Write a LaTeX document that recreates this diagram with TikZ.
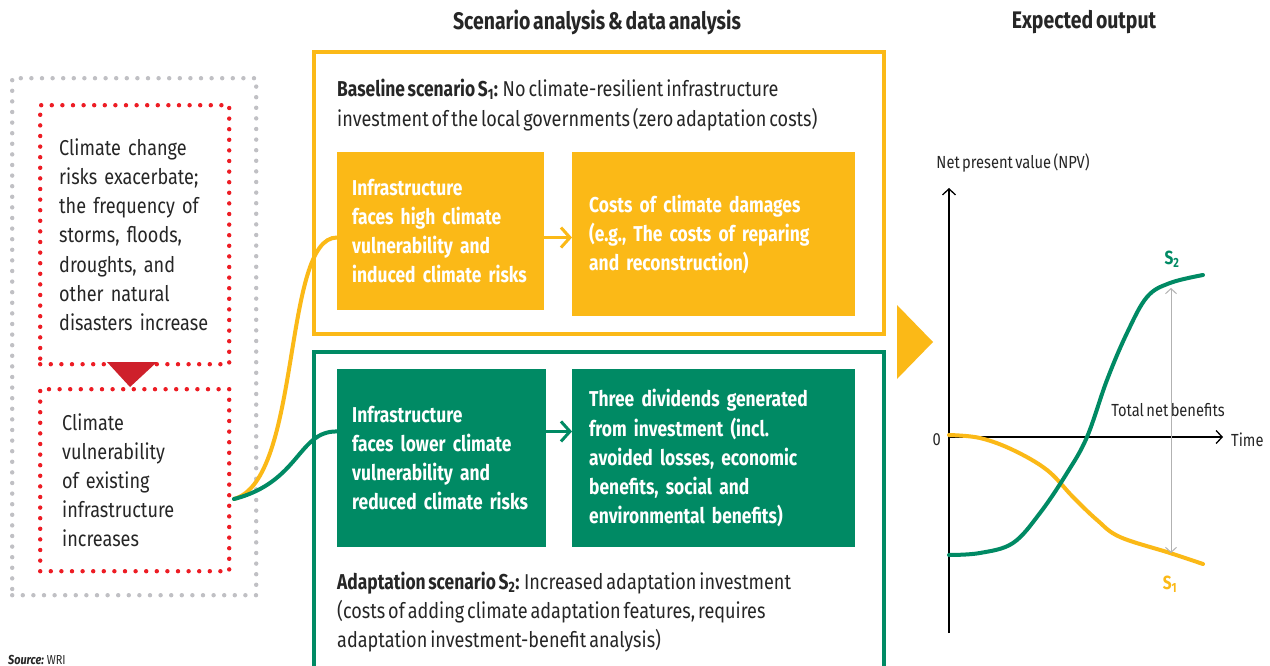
\documentclass[tikz,border=0pt]{standalone}
\usepackage{fontspec}
\setmainfont{Fira Sans}[FakeStretch=0.84, WordSpace=0.62, BoldFeatures={FakeStretch=0.81}]
\usetikzlibrary{calc,arrows.meta}
\definecolor{wriyellow}{RGB}{251,185,23}
\definecolor{wrigreen}{RGB}{0,138,100}
\definecolor{wrired}{RGB}{237,28,36}
\definecolor{wridark}{RGB}{206,32,43}
\definecolor{wridots}{RGB}{192,192,196}
\definecolor{wrigray}{RGB}{178,178,178}
\definecolor{writext}{RGB}{38,38,38}

\begin{document}
\begin{tikzpicture}[x=1pt, y=-1pt,
    every node/.style={inner sep=0pt, text=writext},
    bodytext/.style={font=\fontsize{21.5}{29.2}\selectfont, align=left},
    dotbox/.style={line width=4.4pt, line cap=round, dash pattern=on 0pt off 10.6pt},
    riskbox/.style={dotbox, draw=wrired, bodytext, anchor=north west, minimum width=189pt},
    framebox/.style={draw=#1, line width=4pt, anchor=north west, minimum width=570pt},
    stepbox/.style={fill=#1, bodytext, font=\fontsize{21.5}{29.2}\selectfont\bfseries, text=white, anchor=north west},
    flow/.style={draw=#1, line width=3pt, -{Straight Barb[length=9pt,width=20pt,line width=3pt]}},
    link/.style={draw=#1, line width=4pt, line cap=round},
    axis/.style={draw=black, line width=1.3pt, -{Straight Barb[length=6pt,width=13pt,line width=1.3pt]}},
    chartlabel/.style={font=\fontsize{17.5}{20}\selectfont},
    headlabel/.style={font=\fontsize{24}{27}\selectfont\bfseries},
    ]
    % 画布与白色背景
    \useasboundingbox (0,0) rectangle (1270,666);
    \fill[white] (0,0) rectangle (1270,666);
    % 标题
    \node[headlabel] (headA) at (597,22) {Scenario analysis \& data analysis};
    \node[headlabel] (headB) at (1084,22) {Expected output};
    % 左侧:灰色外框与两个红色风险框
    \node[dotbox, draw=wridots, anchor=north west, minimum width=244pt, minimum height=517pt] (drivers) at (10,76) {};
    \node[riskbox, inner xsep=19pt, text width=151pt, minimum height=259pt] (hazard) at (38,103)
        {Climate change\\risks exacerbate;\\the frequency of\\storms, floods,\\droughts, and\\other natural\\disasters increase};
    \node[riskbox, inner xsep=22pt, text width=145pt, minimum height=182pt] (vuln) at (38,387)
        {Climate\\vulnerability\\of existing\\infrastructure\\increases};
    % 红色向下三角
    \fill[wridark] (107,362) -- (157,362) -- (130,387) -- cycle;
    % 中间:基准情景(黄色)
    \node[framebox=wriyellow, minimum height=282pt] (baseline) at (312,50) {};
    \node[bodytext, anchor=west] (baseText) at (337,105)
        {\textbf{Baseline scenario S\textsubscript{1}:} No climate-resilient infrastructure\\investment of the local governments (zero adaptation costs)};
    \node[stepbox=wriyellow, inner xsep=15pt, text width=177pt, minimum height=158pt] (riskA) at (337,152)
        {Infrastructure\\faces high climate\\vulnerability and\\induced climate risks};
    \node[stepbox=wriyellow, inner xsep=17pt, text width=249pt, minimum height=164pt] (costA) at (572,152)
        {Costs of climate damages\\(e.g., The costs of reparing\\and reconstruction)};
    % 中间:适应情景(绿色)
    \node[framebox=wrigreen, minimum height=340pt] (adaptation) at (312,350) {};
    \node[stepbox=wrigreen, inner xsep=15pt, text width=179pt, minimum height=178pt] (riskB) at (337,369)
        {Infrastructure\\faces lower climate\\vulnerability and\\reduced climate risks};
    \node[stepbox=wrigreen, inner xsep=17pt, text width=249pt, minimum height=178pt] (gainB) at (572,369)
        {Three dividends generated\\from investment (incl.\\avoided losses, economic\\benefits, social and\\environmental benefits)};
    \node[bodytext, anchor=west] (adaptText) at (337,612)
        {\textbf{Adaptation scenario S\textsubscript{2}:} Increased adaptation investment\\(costs of adding climate adaptation features, requires\\adaptation investment-benefit analysis)};
    % 框之间的箭头
    \coordinate (ya) at ($(riskA.north west)!0.54!(riskA.south west)$);
    \coordinate (ga) at ($(riskB.north west)!0.35!(riskB.south west)$);
    \draw[flow=wriyellow] (ya -| riskA.east) -- (ya -| costA.west);
    \draw[flow=wrigreen] (ga -| riskB.east) -- (ga -| gainB.west);
    % 从脆弱性框分出的两条连线
    \coordinate (split) at (234,499);
    \draw[link=wriyellow] (split) .. controls (302,480) and (282,237) .. (ya);
    \draw[link=wrigreen] (split) .. controls (300,482) and (298,431) .. (ga);
    % 黄色向右三角
    \fill[wriyellow] (897,305) -- (933,342) -- (897,379) -- cycle;
    % 右侧:NPV 曲线图
    \coordinate (yTop) at (949,188);
    \coordinate (yBot) at (949,633);
    \coordinate (zero) at (949,437);
    \coordinate (xEnd) at (1223,437);
    \draw[axis] (yBot) -- (yTop);
    \draw[axis] (zero) -- (xEnd);
    \node[chartlabel] (npv) at (1013,163) {Net present value (NPV)};
    \node[chartlabel, anchor=east] (zeroLabel) at (941,440) {0};
    \node[chartlabel, anchor=west] (timeLabel) at (1231,440) {Time};
    % S1 与 S2 曲线
    \draw[link=wriyellow] plot[smooth, tension=0.6] coordinates {(949,435) (980,438) (1013,450) (1047,470) (1073,497) (1097,520) (1120,537) (1170,553) (1203,564)};
    \draw[link=wrigreen] plot[smooth, tension=0.6] coordinates {(949,555) (980,553) (1013,543) (1040,513) (1067,473) (1087,437) (1107,380) (1127,333) (1147,297) (1170,283) (1203,275)};
    \node[font=\fontsize{19}{22}\selectfont\bfseries, text=wrigreen] (sTwo) at (1172,259) {S\textsubscript{2}};
    \node[font=\fontsize{19}{22}\selectfont\bfseries, text=wriyellow] (sOne) at (1170,584) {S\textsubscript{1}};
    % 总净收益的双向箭头
    \coordinate (gapTop) at (1171,288);
    \coordinate (gapBot) at (1171,553);
    \draw[draw=wrigray, line width=1pt, {Straight Barb[length=5pt,width=11pt]}-{Straight Barb[length=5pt,width=11pt]}] (gapTop) -- (gapBot);
    \node[chartlabel] (gapLabel) at (1168,410) {Total net benefits};
    % 来源
    \node[anchor=base west, font=\fontsize{13}{15}\selectfont] (source) at (8,664) {\textbf{\textit{Source:}} WRI};
\end{tikzpicture}
\end{document}
